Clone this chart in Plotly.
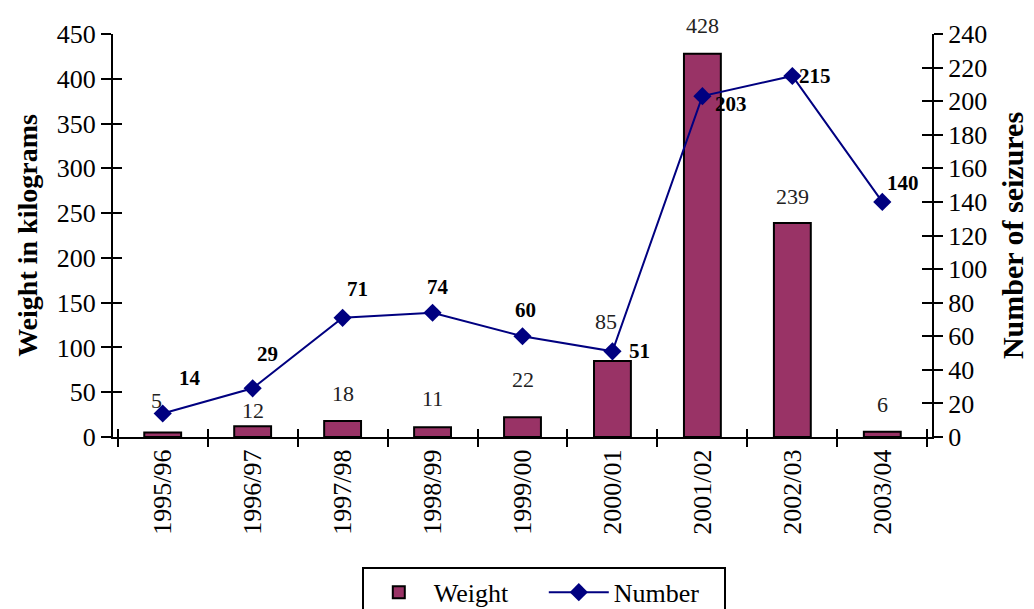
import plotly.graph_objects as go

years = ["1995/96", "1996/97", "1997/98", "1998/99", "1999/00",
         "2000/01", "2001/02", "2002/03", "2003/04"]
weight = [5, 12, 18, 11, 22, 85, 428, 239, 6]
number = [14, 29, 71, 74, 60, 51, 203, 215, 140]

# label offsets (pixels) as placed in the reference
bar_label_dx = [-6, 0, 0, 0, 0, -6, 0, 0, 0]
bar_label_dy = [32, 16, 27, 29, 38, 39, 28, 26, 27]
num_label_dx = [27, 15, 15, 5, 3, 27, 29, 23, 21]
num_label_dy = [35, 34, 29, 26, 26, 0, -8, 0, 19]

FONT = "Liberation Serif"
BAR = "#993366"
LINE = "#000080"

fig = go.Figure()
fig.add_trace(go.Bar(
    x=years, y=weight, name="Weight",
    marker=dict(color=BAR, line=dict(color="black", width=2)),
    yaxis="y", xaxis="x"))
fig.add_trace(go.Scatter(
    x=years, y=number, name="Number", mode="lines+markers",
    line=dict(color=LINE, width=2),
    marker=dict(symbol="diamond", size=14, color=LINE),
    yaxis="y2", xaxis="x"))
# invisible helper traces for crossing tick marks
fig.add_trace(go.Scatter(x=years, y=weight, xaxis="x2", yaxis="y3",
                         mode="markers", marker=dict(opacity=0),
                         showlegend=False, hoverinfo="skip"))
fig.add_trace(go.Scatter(x=years, y=number, xaxis="x2", yaxis="y4",
                         mode="markers", marker=dict(opacity=0),
                         showlegend=False, hoverinfo="skip"))

for i, yr in enumerate(years):
    fig.add_annotation(x=yr, y=weight[i], xref="x", yref="y", text=str(weight[i]),
                       showarrow=False, xshift=bar_label_dx[i], yshift=bar_label_dy[i],
                       font=dict(family=FONT, size=22, color="#222"))
    fig.add_annotation(x=yr, y=number[i], xref="x", yref="y2", text="<b>%d</b>" % number[i],
                       showarrow=False, xshift=num_label_dx[i], yshift=num_label_dy[i],
                       font=dict(family=FONT, size=21, color="black"))

axis_common = dict(showgrid=False, zeroline=False, linecolor="black", linewidth=2,
                   tickcolor="black", tickwidth=2, automargin=False)
helper = dict(showticklabels=False, showline=False, showgrid=False, zeroline=False,
              tickcolor="black", tickwidth=2, automargin=False)

fig.update_layout(
    width=1026, height=601,
    margin=dict(l=105, r=102, t=26, b=172, autoexpand=False),
    paper_bgcolor="white", plot_bgcolor="white",
    font=dict(family=FONT, size=26, color="black"),
    bargap=0.59,
    xaxis=dict(type="category", tickangle=-90, tickson="boundaries",
               ticks="outside", ticklen=8, showline=True, **axis_common),
    xaxis2=dict(type="category", overlaying="x", matches="x", anchor="y",
                tickson="boundaries", ticks="inside", ticklen=8, side="bottom", **helper),
    yaxis=dict(range=[0, 450], dtick=50, ticks="outside", ticklen=10, showline=True,
               title=dict(text="<b>Weight in kilograms</b>", standoff=11,
                          font=dict(size=28)), **axis_common),
    yaxis3=dict(range=[0, 450], dtick=50, ticks="inside", ticklen=9, overlaying="y",
                anchor="x", side="left", **helper),
    yaxis2=dict(range=[0, 240], dtick=20, ticks="outside", ticklen=9, showline=True,
                overlaying="y", side="right", anchor="x",
                title=dict(text="<b>Number of seizures</b>", standoff=16,
                           font=dict(size=30)), **axis_common),
    yaxis4=dict(range=[0, 240], dtick=20, ticks="inside", ticklen=10, overlaying="y",
                anchor="x", side="right", **helper),
    legend=dict(orientation="h", x=0.526, xanchor="center", y=-0.322, yanchor="top",
                bordercolor="black", borderwidth=2, font=dict(size=26),
                itemwidth=60, entrywidth=105, traceorder="normal"),
    showlegend=True,
)

fig.write_html("out.html")
